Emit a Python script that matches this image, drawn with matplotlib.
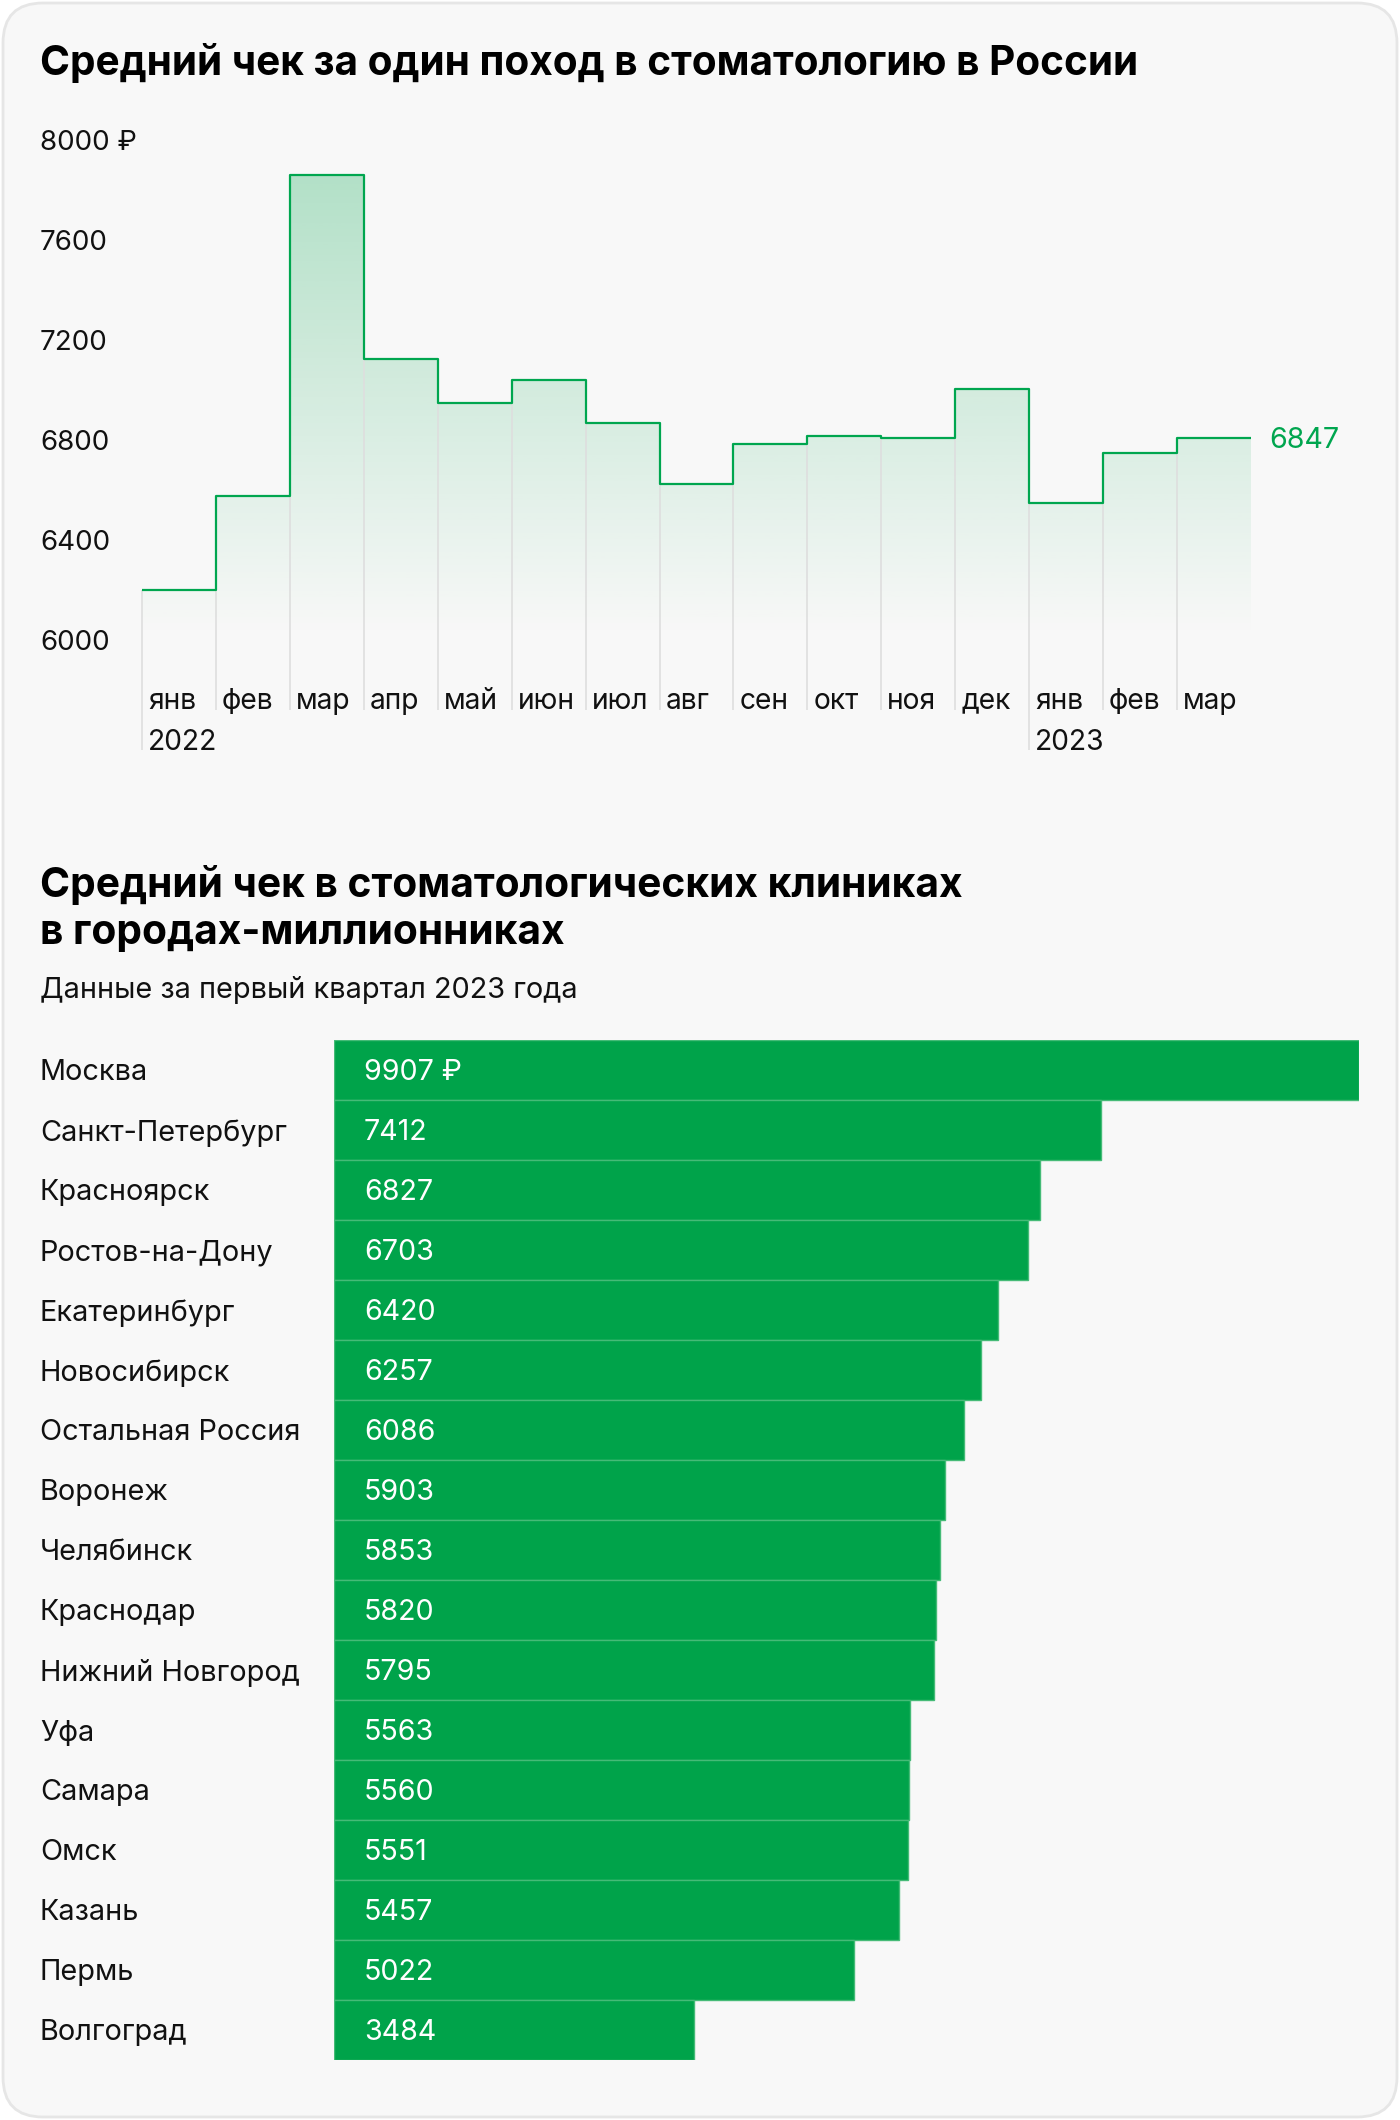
import numpy as np
import matplotlib
matplotlib.use("Agg")
from matplotlib import pyplot as plt
from matplotlib.patches import FancyBboxPatch
from matplotlib.transforms import IdentityTransform, blended_transform_factory

plt.rcParams['font.family'] = ['Inter', 'DejaVu Sans']

# --- data -------------------------------------------------------------
months = ["янв", "фев", "мар", "апр", "май", "июн", "июл", "авг",
          "сен", "окт", "ноя", "дек", "янв", "фев", "мар"]
years = {0: "2022", 12: "2023"}
avg_check = [6240, 6615, 7900, 7165, 6990, 7080, 6910, 6665,
             6825, 6855, 6847, 7045, 6590, 6790, 6847]
y_ticks = [6000, 6400, 6800, 7200, 7600, 8000]

cities = ["Москва", "Санкт-Петербург", "Красноярск", "Ростов-на-Дону",
          "Екатеринбург", "Новосибирск", "Остальная Россия", "Воронеж",
          "Челябинск", "Краснодар", "Нижний Новгород", "Уфа", "Самара",
          "Омск", "Казань", "Пермь", "Волгоград"]
city_check = [9907, 7412, 6827, 6703, 6420, 6257, 6086, 5903, 5853,
              5820, 5795, 5563, 5560, 5551, 5457, 5022, 3484]

W, H = 1400, 2120
GREEN = "#00a64f"
BAR_GREEN = "#00a34a"


def fx(px):
    return px / W


def fy(py):
    return 1 - py / H


fig = plt.figure(figsize=(W / 100, H / 100), dpi=100, facecolor="white")

# card background
card = FancyBboxPatch((3, 3), W - 6, H - 6,
                      boxstyle="round,pad=0,rounding_size=40",
                      transform=IdentityTransform(),
                      facecolor="#f8f8f8", edgecolor="#e6e6e6", linewidth=2,
                      zorder=-10)
fig.patches.append(card)

# --- top chart --------------------------------------------------------
fig.text(fx(40), fy(63), "Средний чек за один поход в стоматологию в России",
         fontsize=29.2, fontweight="bold", va="center", ha="left")

ax = fig.add_axes([fx(142), fy(710), fx(1251) - fx(142), (710 - 125) / H])
ax.set_facecolor("none")
n = len(avg_check)
xs = np.arange(n + 1)
ys = list(avg_check) + [avg_check[-1]]
ymin, ymax = 5760, 8100

poly = ax.fill_between(xs, ys, ymin, step="post", facecolor="none", edgecolor="none")
grad_lo, grad_hi = 6050, 7900
alpha = np.linspace(0, 0.28, 256).reshape(-1, 1)
rgba = np.zeros((256, 1, 4))
rgba[..., 0] = 0 / 255
rgba[..., 1] = 163 / 255
rgba[..., 2] = 74 / 255
rgba[..., 3] = alpha
img = ax.imshow(rgba, extent=[0, n, grad_lo, grad_hi], origin="lower",
                aspect="auto", zorder=1, interpolation="bilinear")
img.set_clip_path(poly.get_paths()[0], transform=ax.transData)

# vertical separators
for i in range(n):
    bottom = 5600 if i in years else ymin
    ax.plot([i, i], [bottom, avg_check[i]], color="#dedede", lw=1.2,
            zorder=2, clip_on=False, solid_capstyle="butt")

ax.step(xs, ys, where="post", color=GREEN, lw=1.6, zorder=3)

ax.set_xlim(0, n)
ax.set_ylim(ymin, ymax)
ax.axis("off")

tick_tr = blended_transform_factory(fig.transFigure, ax.transData)
for t in y_ticks:
    label = f"{t} ₽" if t == y_ticks[-1] else f"{t}"
    ax.text(fx(40), t, label, transform=tick_tr, fontsize=20,
            va="baseline", ha="left", color="#111111")

for i, m in enumerate(months):
    ax.text(i + 0.08, 5795, m, fontsize=20.3, va="center", ha="left",
            color="#111111", clip_on=False)
    if i in years:
        ax.text(i + 0.08, 5630, years[i], fontsize=20.3, va="center",
                ha="left", color="#111111", clip_on=False)

ax.text(n + 0.25, avg_check[-1] - 10, f"{avg_check[-1]}", fontsize=20.6,
        va="center", ha="left", color=GREEN, clip_on=False)

# --- bottom chart -----------------------------------------------------
fig.text(fx(40), fy(885), "Средний чек в стоматологических клиниках",
         fontsize=29.3, fontweight="bold", va="center", ha="left")
fig.text(fx(40), fy(933), "в городах-миллионниках",
         fontsize=29.3, fontweight="bold", va="center", ha="left")
fig.text(fx(40), fy(990), "Данные за первый квартал 2023 года",
         fontsize=20.8, va="center", ha="left", color="#111111")

ax2 = fig.add_axes([fx(334), fy(2060), fx(1359) - fx(334), (2060 - 1040) / H])
ax2.set_facecolor("none")
pos = np.arange(len(cities))
ax2.barh(pos, city_check, height=1.0, color=BAR_GREEN,
         edgecolor="#45bb77", linewidth=1.0)
ax2.set_xlim(0, max(city_check))
ax2.set_ylim(len(cities) - 0.5, -0.5)
ax2.axis("off")

lab_tr = blended_transform_factory(fig.transFigure, ax2.transData)
for i, (c, v) in enumerate(zip(cities, city_check)):
    ax2.text(fx(40), i + 0.05, c, transform=lab_tr, fontsize=20.8,
             va="center", ha="left", color="#111111")
    txt = f"{v} ₽" if i == 0 else f"{v}"
    ax2.text(fx(364), i + 0.05, txt, transform=lab_tr, fontsize=20.6,
             va="center", ha="left", color="white")

fig.savefig("out.png", dpi=100, facecolor="white")
